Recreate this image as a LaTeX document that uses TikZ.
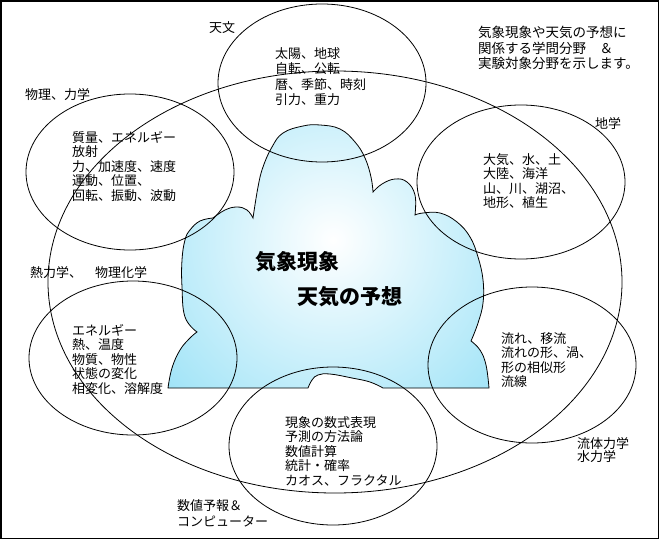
\documentclass[tikz,border=0pt]{standalone}
\usepackage{fontspec}
\setmainfont{Noto Sans CJK JP}
\definecolor{cloudblue}{RGB}{72,202,240}
\tikzset{
  circ/.style={draw=black, line width=0.8pt},
  lbl/.style={anchor=north west, inner sep=0pt, align=left, font=\fontsize{13}{14.5}\selectfont},
  title/.style={anchor=north west, inner sep=0pt, font=\fontsize{21}{24}\selectfont\bfseries},
}
\begin{document}
\begin{tikzpicture}[x=1pt,y=-1pt]
\useasboundingbox (0,0) rectangle (660,540);
\fill[white] (0,0) rectangle (660,540);
% cloud
\draw[line width=0.8pt, path picture={\shade[inner color=white, outer color=cloudblue] (333,240) circle (430pt);}]
 (168,388)
 -- plot[smooth, tension=0.7] coordinates {(168,388) (172,368) (180,350) (190,338) (197,332)}
 -- plot[smooth, tension=0.7] coordinates {(197,332) (185,317) (182,287) (182,260) (185,240) (190,230) (200,221) (213,218)}
 -- plot[smooth, tension=0.7] coordinates {(213,218) (225,210) (237,207) (247,210) (253,218)}
 -- plot[smooth, tension=0.7] coordinates {(253,218) (258,187) (263,167) (272,147) (283,133) (303,126) (320,125) (340,129) (355,142) (365,158) (371,177) (373,192)}
 -- plot[smooth, tension=0.7] coordinates {(373,192) (382,184) (395,179) (407,182) (415,195) (415,215)}
 -- plot[smooth, tension=0.7] coordinates {(415,215) (423,213) (440,213) (457,222) (470,237) (478,257) (483,280) (483,303) (478,323) (471,341)}
 -- plot[smooth, tension=0.7] coordinates {(471,341) (480,350) (486,365) (489,388)}
 -- (383,388)
 -- plot[smooth, tension=0.7] coordinates {(383,388) (370,382) (352,378) (330,374) (318,375) (312,380) (308,388)}
 -- cycle;
% ellipses
\draw[circ] (335,282) ellipse [x radius=287pt, y radius=211pt];
\draw[circ] (322,83) ellipse [x radius=104pt, y radius=79pt];
\draw[circ] (130,172) ellipse [x radius=104pt, y radius=78pt];
\draw[circ] (521,182) ellipse [x radius=104pt, y radius=77pt];
\draw[circ] (133,358) ellipse [x radius=104pt, y radius=77pt];
\draw[circ] (532,365) ellipse [x radius=104pt, y radius=78pt];
\draw[circ] (333,446) ellipse [x radius=104pt, y radius=79pt];
% labels
\node[lbl] (tenmon) at (209,21) {天文};
\node[lbl, font=\fontsize{13}{15.5}\selectfont] (tenmonT) at (275,47) {太陽、地球\\自転、公転\\暦、季節、時刻\\引力、重力};
\node[lbl, font=\fontsize{13.5}{15.5}\selectfont] (note) at (478,26) {気象現象や天気の予想に\\関係する学問分野　＆\\実験対象分野を示します。};
\node[lbl] (chigaku) at (595,117) {地学};
\node[lbl] (chigakuT) at (483,153) {大気、水、土\\大陸、海洋\\山、川、湖沼、\\地形、植生};
\node[lbl] (butsuri) at (25,88) {物理、力学};
\node[lbl] (butsuriT) at (72,131) {質量、エネルギー\\放射\\力、加速度、速度\\運動、位置、\\回転、振動、波動};
\node[lbl] (netsu) at (30,266) {熱力学、　物理化学};
\node[lbl] (netsuT) at (72,324) {エネルギー\\熱、温度\\物質、物性\\状態の変化\\相変化、溶解度};
\node[lbl] (nagare) at (501,332) {流れ、移流\\流れの形、渦、\\形の相似形\\流線};
\node[lbl, font=\fontsize{13}{13}\selectfont] (ryutai) at (577,437) {流体力学\\水力学};
\node[lbl] (suchiT) at (285,416) {現象の数式表現\\予測の方法論\\数値計算\\統計・確率\\カオス、フラクタル};
\node[lbl, font=\fontsize{13}{16.5}\selectfont] (suchi) at (177,499) {数値予報＆\\コンピューター};
\node[title] (kisho) at (255,251) {気象現象};
\node[title] (tenki) at (297,286) {天気の予想};
% frame
\draw[line width=1.6pt] (1,1) rectangle (658.5,538.5);
\end{tikzpicture}
\end{document}
